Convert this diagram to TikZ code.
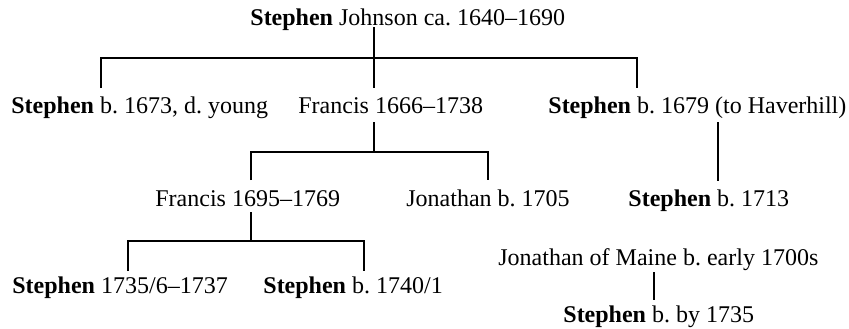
\documentclass[tikz,border=0pt]{standalone}
\usepackage{fontspec}
\setmainfont{Liberation Serif}
\begin{document}
\frenchspacing
\begin{tikzpicture}[x=0.5pt,y=-0.5pt,
  person/.style={anchor=base west,inner sep=0pt,font=\fontsize{12}{14}\selectfont},
  link/.style={draw=black,line width=1pt}]
\useasboundingbox (0,0) rectangle (849,328);
% people
\node[person] (root) at (250,25) {\textbf{Stephen} Johnson ca. 1640--1690};
\node[person] (s1673) at (11,113) {\textbf{Stephen} b. 1673, d. young};
\node[person] (f1666) at (298,113) {Francis 1666--1738};
\node[person] (s1679) at (548,113) {\textbf{Stephen} b. 1679 (to Haverhill)};
\node[person] (f1695) at (155,206) {Francis 1695--1769};
\node[person] (j1705) at (406,206) {Jonathan b. 1705};
\node[person] (s1713) at (628,206) {\textbf{Stephen} b. 1713};
\node[person] (s1735) at (12,293) {\textbf{Stephen} 1735/6--1737};
\node[person] (s1740) at (263,293) {\textbf{Stephen} b. 1740/1};
\node[person] (jm) at (498,265) {Jonathan of Maine b. early 1700s};
\node[person] (sby) at (563,322) {\textbf{Stephen} b. by 1735};
% junction coordinates
\coordinate (r0) at (374,27);
\coordinate (rj) at (374,58);
\coordinate (rl) at (101,58);
\coordinate (rr) at (637,58);
\coordinate (a1) at (101,88);
\coordinate (a2) at (374,88);
\coordinate (a3) at (637,88);
\coordinate (f0) at (374,122);
\coordinate (fj) at (374,152);
\coordinate (fl) at (251,152);
\coordinate (fr) at (488,152);
\coordinate (b1) at (251,180);
\coordinate (b2) at (488,180);
\coordinate (h0) at (718,122);
\coordinate (h1) at (718,181);
\coordinate (g0) at (251,212);
\coordinate (gj) at (251,241);
\coordinate (gl) at (128,241);
\coordinate (gr) at (364,241);
\coordinate (c1) at (128,271);
\coordinate (c2) at (364,271);
\coordinate (m0) at (654,272);
\coordinate (m1) at (654,300);
% connectors
\draw[link] (r0) -- (rj);
\draw[link] (a1) -- (rl) -- (rr) -- (a3);
\draw[link] (rj) -- (a2);
\draw[link] (f0) -- (fj);
\draw[link] (b1) -- (fl) -- (fr) -- (b2);
\draw[link] (h0) -- (h1);
\draw[link] (g0) -- (gj);
\draw[link] (c1) -- (gl) -- (gr) -- (c2);
\draw[link] (m0) -- (m1);
\end{tikzpicture}
\end{document}
